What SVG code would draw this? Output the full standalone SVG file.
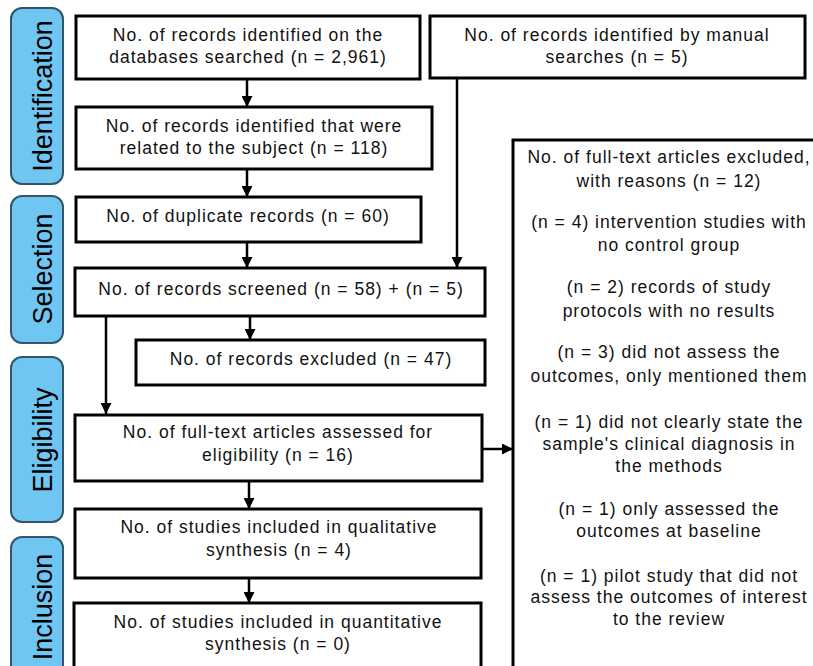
<svg xmlns="http://www.w3.org/2000/svg" width="813" height="666" viewBox="0 0 813 666">
<style>
.box{fill:#fff;stroke:#000;stroke-width:3}
.side{fill:#6fc6f3;stroke:#34546a;stroke-width:2}
.t{font-family:"Liberation Sans",Arial,sans-serif;font-size:17.5px;letter-spacing:1px;fill:#111;text-anchor:middle}
.r{font-family:"Liberation Sans",Arial,sans-serif;font-size:17.5px;letter-spacing:1px;fill:#111;text-anchor:middle}
.s{font-family:"Liberation Sans",Arial,sans-serif;font-size:27px;fill:#000;text-anchor:middle}
.c{fill:none;stroke:#000;stroke-width:2.5}
</style>
<defs>
<marker id="ah" viewBox="0 0 10 10" refX="10" refY="5" markerWidth="4.4" markerHeight="4.4" orient="auto" markerUnits="strokeWidth">
<path d="M0,0 L10,5 L0,10 z" fill="#000"/>
</marker>
</defs>
<rect x="0" y="0" width="813" height="666" fill="#fff"/>
<g id="phase-identification"><rect class="side" x="11" y="8" width="52" height="176" rx="11"/><text class="s" transform="translate(52,96) rotate(-90)">Identification</text></g>
<g id="phase-selection"><rect class="side" x="11" y="196" width="52" height="147" rx="11"/><text class="s" transform="translate(52,269) rotate(-90)">Selection</text></g>
<g id="phase-eligibility"><rect class="side" x="11" y="357" width="52" height="165" rx="11"/><text class="s" transform="translate(52,440) rotate(-90)">Eligibility</text></g>
<g id="phase-inclusion"><rect class="side" x="11" y="537" width="52" height="150" rx="11"/><text class="s" transform="translate(52,607) rotate(-90)">Inclusion</text></g>

<g id="connectors">
<line class="c" x1="247" y1="79" x2="247" y2="107" marker-end="url(#ah)"/>
<line class="c" x1="247" y1="169" x2="247" y2="197" marker-end="url(#ah)"/>
<line class="c" x1="247" y1="242" x2="247" y2="268" marker-end="url(#ah)"/>
<line class="c" x1="457" y1="78" x2="457" y2="268" marker-end="url(#ah)"/>
<line class="c" x1="250" y1="316" x2="250" y2="340" marker-end="url(#ah)"/>
<line class="c" x1="106" y1="316" x2="106" y2="414" marker-end="url(#ah)"/>
<line class="c" x1="482" y1="449" x2="513" y2="449" marker-end="url(#ah)"/>
<line class="c" x1="249" y1="481" x2="249" y2="509" marker-end="url(#ah)"/>
<line class="c" x1="249" y1="578" x2="249" y2="603" marker-end="url(#ah)"/>
</g>

<g id="n-databases"><rect class="box" x="76" y="16" width="344" height="63"/><text class="t" x="248" y="41">No. of records identified on the</text><text class="t" x="248" y="63">databases searched (n = 2,961)</text></g>
<g id="n-manual"><rect class="box" x="430" y="16" width="375" height="62"/><text class="t" x="617" y="41">No. of records identified by manual</text><text class="t" x="617" y="63">searches (n = 5)</text></g>
<g id="n-subject"><rect class="box" x="76" y="107" width="356" height="62"/><text class="t" x="254" y="132">No. of records identified that were</text><text class="t" x="254" y="154">related to the subject (n = 118)</text></g>
<g id="n-duplicates"><rect class="box" x="76" y="197" width="345" height="45"/><text class="t" x="248" y="222">No. of duplicate records (n = 60)</text></g>
<g id="n-screened"><rect class="box" x="75" y="268" width="410" height="48"/><text class="t" x="281" y="295">No. of records screened (n = 58) + (n = 5)</text></g>
<g id="n-excluded"><rect class="box" x="136" y="340" width="349" height="45"/><text class="t" x="311" y="365">No. of records excluded (n = 47)</text></g>
<g id="n-fulltext"><rect class="box" x="75" y="415" width="407" height="66"/><text class="t" x="278" y="438">No. of full-text articles assessed for</text><text class="t" x="278" y="461">eligibility (n = 16)</text></g>
<g id="n-qualitative"><rect class="box" x="75" y="509" width="406" height="69"/><text class="t" x="279" y="533">No. of studies included in qualitative</text><text class="t" x="279" y="556">synthesis (n = 4)</text></g>
<g id="n-quantitative"><rect class="box" x="74" y="603" width="407" height="80"/><text class="t" x="278" y="628">No. of studies included in quantitative</text><text class="t" x="278" y="650">synthesis (n = 0)</text></g>

<g id="n-reasons"><rect class="box" x="513" y="140" width="330" height="560"/>
<text class="r" x="669" y="163">No. of full-text articles excluded,</text>
<text class="r" x="669" y="187">with reasons (n = 12)</text>
<text class="r" x="669" y="228">(n = 4) intervention  studies with</text>
<text class="r" x="669" y="251">no control group</text>
<text class="r" x="669" y="293">(n = 2) records of study</text>
<text class="r" x="669" y="317">protocols with no results</text>
<text class="r" x="669" y="358">(n = 3) did not assess the</text>
<text class="r" x="669" y="382">outcomes, only mentioned them</text>
<text class="r" x="669" y="428">(n = 1) did not clearly state the</text>
<text class="r" x="669" y="450">sample's clinical diagnosis in</text>
<text class="r" x="669" y="472">the methods</text>
<text class="r" x="669" y="515">(n = 1) only assessed the</text>
<text class="r" x="669" y="537">outcomes at baseline</text>
<text class="r" x="669" y="582">(n = 1) pilot study that did not</text>
<text class="r" x="669" y="603">assess the outcomes of interest</text>
<text class="r" x="669" y="625">to the review</text>
</g>
</svg>
